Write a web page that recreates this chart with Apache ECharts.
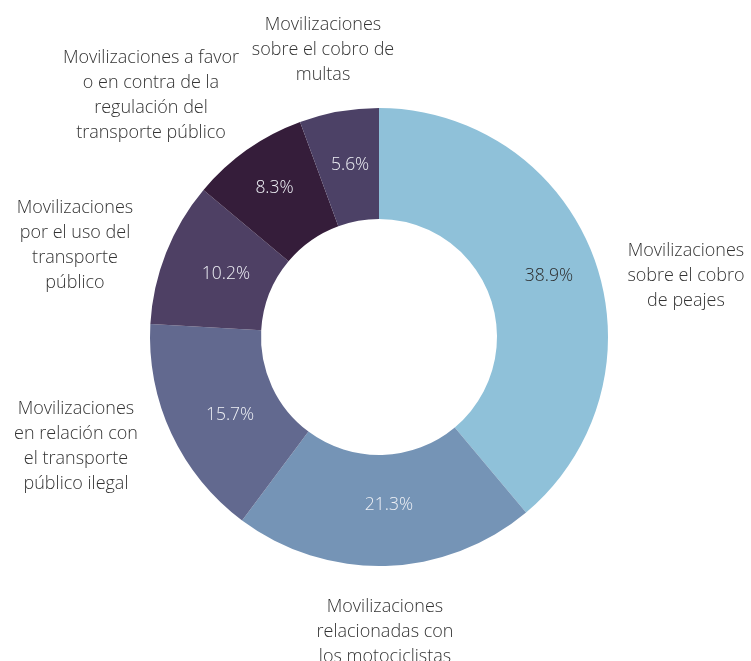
<!DOCTYPE html>
<html>
<head>
<meta charset="utf-8">
<script src="https://cdn.jsdelivr.net/npm/echarts@6/dist/echarts.min.js"></script>
<style>
  html, body { margin: 0; padding: 0; background: #fff; }
  #chart { width: 751px; height: 661px; }
</style>
</head>
<body>
<div id="chart"></div>
<script>
// Categories and shares (%) of the mobilisations, clockwise from 12 o'clock
const categories = [
  'Movilizaciones\nsobre el cobro\nde peajes',
  'Movilizaciones\nrelacionadas con\nlos motociclistas',
  'Movilizaciones\nen relación con\nel transporte\npúblico ilegal',
  'Movilizaciones\npor el uso del\ntransporte\npúblico',
  'Movilizaciones a favor\no en contra de la\nregulación del\ntransporte público',
  'Movilizaciones\nsobre el cobro de\nmultas'
];
const shares = [38.9, 21.3, 15.7, 10.2, 8.3, 5.6];
const sliceColors = ['#8fc1d9', '#7594b6', '#62698f', '#4e4064', '#351d3a', '#4c4166'];
const innerTextColors = ['#2b2b2b', '#eef0f5', '#eef0f5', '#eef0f5', '#eef0f5', '#eef0f5'];

// Small nudges (px) for the percentage labels inside the slices
const percentNudges = [[4, -1], [5, -8], [11, 3], [11, 2], [-3, -5], [2, 2]];

// Anchor points (px) for the category captions placed around the ring
const captionAnchors = [
  [686, 276], [385, 632], [76, 446], [75, 245], [151, 95], [323, 50]
];

const FONT = "'Open Sans', 'DejaVu Sans', sans-serif";
const CENTER = [379, 337];
const RADIUS = [118, 229];

const chart = echarts.init(document.getElementById('chart'), null, { renderer: 'canvas' });

const sliceData = shares.map((v, i) => ({
  value: v,
  name: categories[i],
  itemStyle: { color: sliceColors[i] },
  label: { color: innerTextColors[i], offset: percentNudges[i] }
}));

chart.setOption({
  animation: false,
  backgroundColor: '#ffffff',
  series: [
    {
      // ring with percentage labels inside each slice
      type: 'pie',
      center: CENTER,
      radius: RADIUS,
      startAngle: 90,
      clockwise: true,
      silent: true,
      data: sliceData,
      label: {
        position: 'inside',
        formatter: p => p.value.toFixed(1) + '%',
        fontFamily: FONT,
        fontWeight: 300,
        fontSize: 17.5
      },
      labelLine: { show: false }
    },
    {
      // transparent copy of the ring carrying the category captions
      type: 'pie',
      center: CENTER,
      radius: RADIUS,
      startAngle: 90,
      clockwise: true,
      silent: true,
      itemStyle: { color: 'rgba(0,0,0,0)' },
      data: shares.map((v, i) => ({ value: v, name: categories[i] })),
      label: {
        position: 'outside',
        formatter: p => p.name,
        fontFamily: FONT,
        fontWeight: 300,
        fontSize: 18,
        lineHeight: 25,
        color: '#333333',
        overflow: 'none',
        width: 260,
        align: 'center'
      },
      labelLine: { show: false },
      labelLayout: p => ({
        x: captionAnchors[p.dataIndex][0],
        y: captionAnchors[p.dataIndex][1],
        align: 'center',
        verticalAlign: 'middle'
      })
    }
  ]
});
</script>
</body>
</html>
